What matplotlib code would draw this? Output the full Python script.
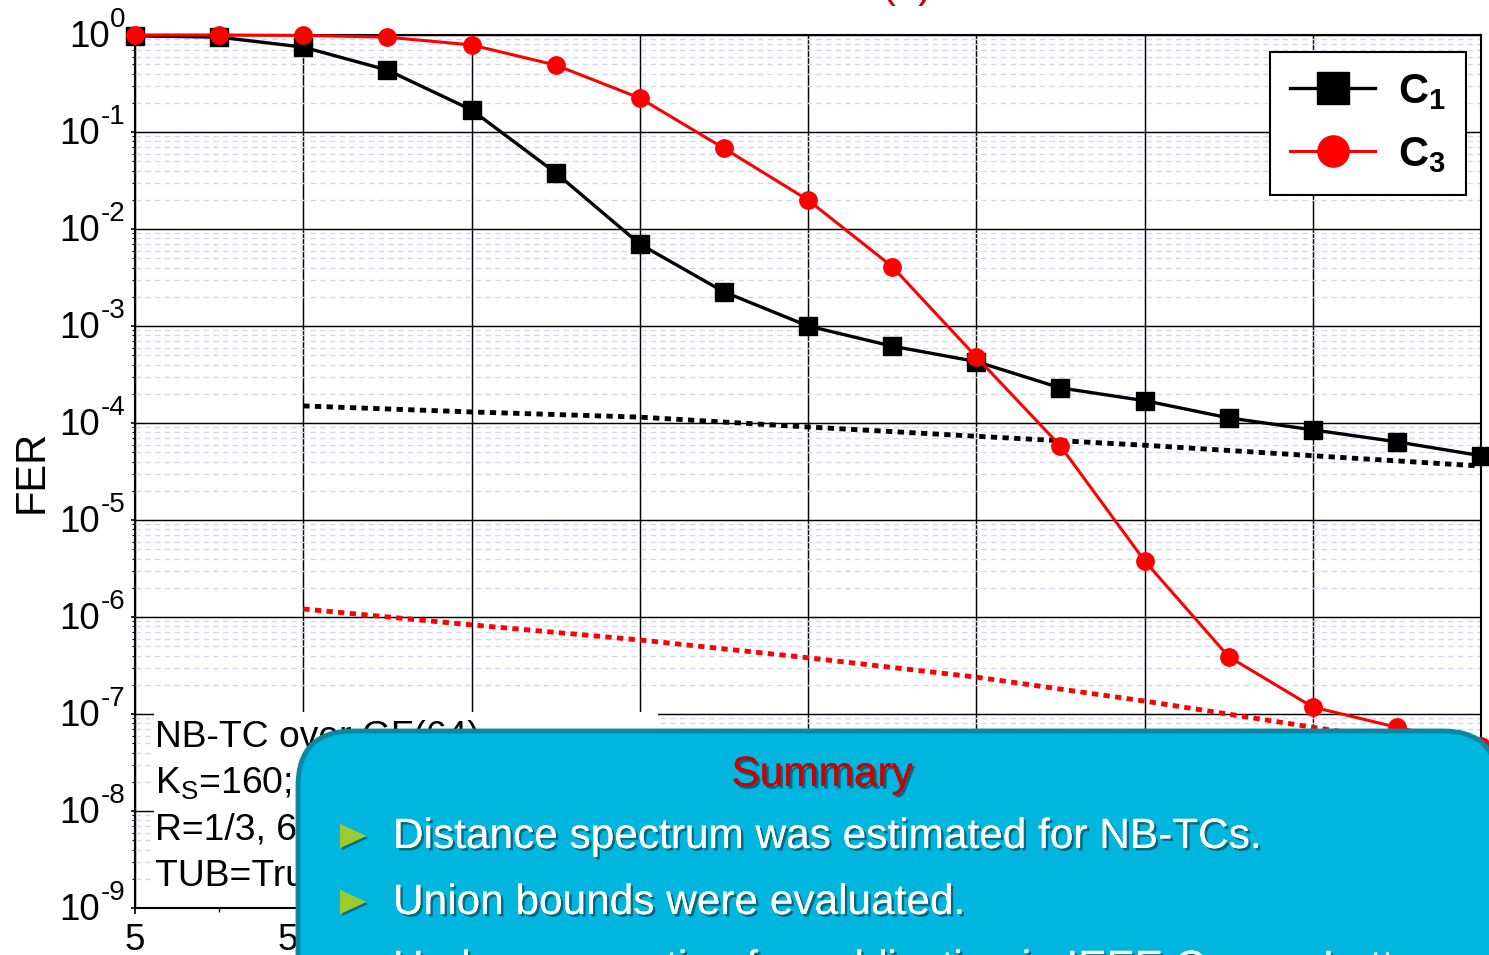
import matplotlib
matplotlib.use('Agg')
import matplotlib.pyplot as plt
import matplotlib.patheffects as pe
import matplotlib.transforms as mtransforms
from matplotlib.patches import FancyBboxPatch, Rectangle, Polygon
from matplotlib.ticker import LogLocator, NullFormatter, MultipleLocator, FuncFormatter
import numpy as np

plt.rcParams['font.family'] = ['Liberation Sans', 'DejaVu Sans']
plt.rcParams['mathtext.fontset'] = 'custom'
plt.rcParams['mathtext.rm'] = 'Liberation Sans'
plt.rcParams['mathtext.bf'] = 'Liberation Sans:bold'
plt.rcParams['mathtext.it'] = 'Liberation Sans:italic'

# Eb/N0 grid of the simulations (dB)
snr = [5.0, 5.25, 5.5, 5.75, 6.0, 6.25, 6.5, 6.75, 7.0,
       7.25, 7.5, 7.75, 8.0, 8.25, 8.5, 8.75, 9.0]
# simulated FER
fer_c1 = [0.98, 0.95, 0.75, 0.435, 0.169, 0.038, 0.0070, 2.25e-3, 1.0e-3,
          6.2e-4, 4.3e-4, 2.3e-4, 1.7e-4, 1.13e-4, 8.5e-5, 6.4e-5, 4.6e-5]
fer_c3 = [1.0, 1.0, 0.99, 0.95, 0.79, 0.49, 0.224, 0.068, 0.0199,
          4.1e-3, 4.8e-4, 5.8e-5, 3.8e-6, 3.9e-7, 1.18e-7, 7.3e-8, 4.7e-8]
# truncated union bounds
snr_bound = [5.5, 6.0, 6.5, 7.0, 7.5, 8.0, 8.5, 9.0]
tub_c1 = [1.5e-4, 1.3e-4, 1.15e-4, 9.1e-5, 7.3e-5, 5.9e-5, 4.6e-5, 3.6e-5]
tub_c3 = [1.21e-6, 8.3e-7, 5.8e-7, 3.8e-7, 2.4e-7, 1.36e-7, 7.3e-8, 4.0e-8]

legend_labels = [r'$\mathbf{C}_{\mathbf{1}}$', r'$\mathbf{C}_{\mathbf{3}}$']
decades = list(range(0, -10, -1))

info_lines = ['NB-TC over GF(64)',
              r'K$_{\rm S}$=160; K$_{\rm b}$=960',
              'R=1/3, 6 iterations',
              'TUB=Truncated Union Bound']
summary_title = 'Summary'
summary_items = ['Distance spectrum was estimated for NB-TCs.',
                 'Union bounds were evaluated.',
                 'Under preparation for publication in IEEE Comm. Letters.']

W, H = 1489, 955
fig = plt.figure(figsize=(W / 100, H / 100), dpi=100)
ax = fig.add_axes([135 / W, 1 - 908 / H, 1346 / W, 873 / H])
ax.set_yscale('log')
ax.set_xlim(5, 9)
ax.set_ylim(1e-9, 1)

# grid
ax.yaxis.set_major_locator(LogLocator(base=10, numticks=20))
ax.yaxis.set_minor_locator(LogLocator(base=10, subs=np.arange(2, 10), numticks=20))
ax.yaxis.set_major_formatter(NullFormatter())
ax.yaxis.set_minor_formatter(NullFormatter())
ax.xaxis.set_major_locator(MultipleLocator(0.5))
ax.xaxis.set_minor_locator(MultipleLocator(0.25))
ax.xaxis.set_major_formatter(FuncFormatter(lambda v, _: f'{v:g}'))

ax.grid(which='major', color='black', lw=1.05, ls='-')
ax.yaxis.grid(which='minor', color='#d6d6f0', lw=1.0, ls=(0, (4, 3)))
ax.xaxis.grid(which='minor', visible=False)
ax.set_axisbelow(True)

for s in ax.spines.values():
    s.set_linewidth(1.5)
    s.set_color('black')

ax.tick_params(axis='x', which='major', direction='out', length=4, width=1.2,
               labelsize=26.5, pad=7)
ax.tick_params(axis='x', which='minor', direction='out', length=3, width=1.0)
ax.tick_params(axis='y', which='major', direction='out', length=3, width=1.2)
ax.tick_params(axis='y', which='minor', direction='out', length=2.5, width=0.8)

# bounds
ax.plot(snr_bound, tub_c1, color='black', lw=3.5, ls=(0, (1.3, 1.1)), zorder=3)
ax.plot(snr_bound, tub_c3, color='red', lw=3.5, ls=(0, (1.3, 1.1)), zorder=3)
# simulations
ax.plot(snr, fer_c1, '-s', color='black', lw=2.4, ms=13, clip_on=False,
        zorder=5, label=legend_labels[0])
ax.plot(snr, fer_c3, '-o', color='red', lw=2.2, ms=12.5, clip_on=False,
        zorder=6, label=legend_labels[1])

leg = ax.legend(loc='upper right', bbox_to_anchor=(0.9889, 0.9805),
                borderaxespad=0, fontsize=30, markerscale=1.8,
                handlelength=2.05, handletextpad=0.55, borderpad=0.48,
                labelspacing=0.55, frameon=True, fancybox=False,
                edgecolor='black', framealpha=1)
leg.get_frame().set_linewidth(1.5)
leg.set_zorder(10)

# y tick labels as 10^n
fig.canvas.draw()
renderer = fig.canvas.get_renderer()
ytrans = ax.get_yaxis_transform()
for e in decades:
    t_exp = ax.text(0, 10.0 ** e, str(e), fontsize=20, ha='right', va='baseline',
                    clip_on=False,
                    transform=mtransforms.offset_copy(ytrans, fig=fig, x=-10, y=8,
                                                      units='dots'))
    wexp = t_exp.get_window_extent(renderer).width
    ax.text(0, 10.0 ** e, '10', fontsize=26.5, ha='right', va='baseline',
            clip_on=False,
            transform=mtransforms.offset_copy(ytrans, fig=fig, x=-10 - wexp, y=-12,
                                              units='dots'))

fig.text(32 / W, 1 - 471 / H, 'FER', rotation=90, ha='center', va='center',
         fontsize=30)

# slide layer in pixel coordinates
ov = fig.add_axes([0, 0, 1, 1], zorder=20)
ov.set_xlim(0, W)
ov.set_ylim(H, 0)
ov.axis('off')
ov.patch.set_visible(False)

ov.text(907, -3, '(2)', color='#cc0000', fontsize=30, ha='center', va='baseline')

ov.add_patch(Rectangle((154, 712), 504, 194, fc='white', ec='none', zorder=1))
for i, line in enumerate(info_lines):
    ov.text(155, 747 + 46.3 * i, line, fontsize=26.8, ha='left', va='baseline',
            zorder=2)

ov.add_patch(FancyBboxPatch((298, 731), 1200, 400,
                            boxstyle='round,pad=0,rounding_size=55',
                            fc='#00b6de', ec='#0a87a3', lw=3.5, zorder=3))

shadow = [pe.withSimplePatchShadow(offset=(1.8, -1.8), shadow_rgbFace='#0a2a3a',
                                   alpha=0.55), pe.Normal()]
ov.text(822, 786, summary_title, color='#cc0000', fontsize=30.5, ha='center',
        va='baseline', zorder=4, path_effects=shadow)
for i, item in enumerate(summary_items):
    yb = 848 + 66 * i
    ov.text(393, yb, item, color='white', fontsize=30.5, ha='left',
            va='baseline', zorder=4, path_effects=shadow)
    tri = Polygon([(340, yb - 24), (340, yb + 0), (366, yb - 12)], closed=True,
                  fc='#9dcb2f', ec='none', zorder=4,
                  path_effects=[pe.withSimplePatchShadow(offset=(1.5, -1.5),
                                                         shadow_rgbFace='#0a2a3a',
                                                         alpha=0.5), pe.Normal()])
    ov.add_patch(tri)

fig.savefig('out.png', dpi=100)
